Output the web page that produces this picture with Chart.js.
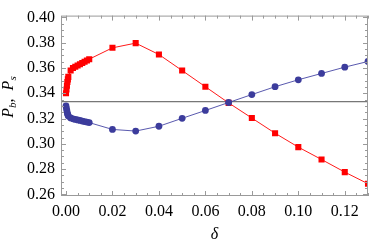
<!DOCTYPE html>
<html><head><meta charset="utf-8">
<script src="https://cdn.jsdelivr.net/npm/chart.js@4/dist/chart.umd.min.js"></script>
<style>html,body{margin:0;padding:0;background:#fff}canvas{display:block}</style>
</head><body>
<canvas id="c" width="374" height="244"></canvas>
<script>
// ---- data ----
const deltaValues = [0, 0.0002, 0.0004, 0.0006, 0.0008, 0.001,
  0.002, 0.003, 0.004, 0.005, 0.006, 0.007, 0.008, 0.009, 0.01,
  0.02, 0.03, 0.04, 0.05, 0.06, 0.07, 0.08, 0.09, 0.10, 0.11, 0.12, 0.13];
const squareSeries = [0.340, 0.343, 0.346, 0.349, 0.351, 0.353,
  0.358, 0.360, 0.361, 0.362, 0.363, 0.364, 0.365, 0.366, 0.367,
  0.376, 0.3797, 0.3707, 0.358, 0.3452, 0.3324, 0.3204, 0.3084, 0.2974, 0.2876, 0.2776, 0.2684];
const circleSeries = [0.330, 0.328, 0.326, 0.324, 0.323, 0.322,
  0.3205, 0.3198, 0.3193, 0.3189, 0.3185, 0.3180, 0.3176, 0.3172, 0.3168,
  0.3114, 0.3101, 0.3139, 0.3202, 0.3264, 0.3327, 0.3390, 0.3452, 0.3507, 0.3557, 0.3607, 0.3652];
const referenceLevel = 1 / 3;
const xTickLabels = [0, 0.02, 0.04, 0.06, 0.08, 0.10, 0.12];
const yTickLabels = [0.26, 0.28, 0.30, 0.32, 0.34, 0.36, 0.38, 0.40];
const xRange = [-0.00215, 0.13];
const yRange = [0.2587, 0.4015];

const serif = '"Liberation Serif", "DejaVu Serif", serif';
const frameColor = '#9a9a9a';

function minorValues(majors, lo, hi) {
  const step = (majors[1] - majors[0]) / 4;
  const out = [];
  const start = majors[0] - 4 * step;
  for (let i = 0; ; i++) {
    const v = +(start + i * step).toFixed(6);
    if (v > hi) break;
    if (v >= lo) out.push({ v, major: i % 4 === 0 });
  }
  return out;
}

const framePlugin = {
  id: 'frame',
  afterDatasetsDraw(chart) {
    const { ctx, chartArea: { left, right, top, bottom }, scales: { x, y } } = chart;
    ctx.save();
    ctx.strokeStyle = frameColor;
    ctx.lineWidth = 1;
    ctx.strokeRect(left + 0.5, top + 0.5, right - left - 1, bottom - top - 1);
    ctx.beginPath();
    for (const t of minorValues(xTickLabels, xRange[0], xRange[1])) {
      const px = Math.round(x.getPixelForValue(t.v)) + 0.5;
      const len = t.major ? 5 : 3;
      ctx.moveTo(px, bottom); ctx.lineTo(px, bottom - len);
      ctx.moveTo(px, top); ctx.lineTo(px, top + len);
    }
    for (const t of minorValues(yTickLabels, yRange[0], yRange[1])) {
      const py = Math.round(y.getPixelForValue(t.v)) + 0.5;
      const len = t.major ? 5 : 3;
      ctx.moveTo(left, py); ctx.lineTo(left + len, py);
      ctx.moveTo(right, py); ctx.lineTo(right - len, py);
    }
    ctx.stroke();
    // y-axis title with subscripts
    ctx.fillStyle = '#000';
    ctx.translate(13, 97);
    ctx.rotate(-Math.PI / 2);
    const parts = [
      { t: 'P', f: 'italic 16px ' + serif, dy: 0 },
      { t: 'b', f: 'italic 11px ' + serif, dy: 3 },
      { t: ',  ', f: '16px ' + serif, dy: 0 },
      { t: 'P', f: 'italic 16px ' + serif, dy: 0 },
      { t: 's', f: 'italic 11px ' + serif, dy: 3 }
    ];
    let w = 0;
    for (const p of parts) { ctx.font = p.f; w += ctx.measureText(p.t).width; }
    let cx = -w / 2;
    ctx.textBaseline = 'alphabetic';
    for (const p of parts) {
      ctx.font = p.f;
      ctx.fillText(p.t, cx, p.dy);
      cx += ctx.measureText(p.t).width;
    }
    ctx.restore();
  }
};

new Chart(document.getElementById('c'), {
  type: 'scatter',
  data: {
    datasets: [
      {
        label: 'circles',
        data: deltaValues.map((d, i) => ({ x: d, y: circleSeries[i] })),
        showLine: true,
        borderColor: 'rgba(60,60,160,0.85)',
        borderWidth: 1,
        backgroundColor: '#3c3c9c',
        pointBackgroundColor: '#3c3c9c',
        pointBorderWidth: 0,
        pointRadius: 3.4,
        pointStyle: 'circle',
        order: 1
      },
      {
        label: 'squares',
        data: deltaValues.map((d, i) => ({ x: d, y: squareSeries[i] })),
        showLine: true,
        borderColor: '#ff1a1a',
        borderWidth: 1,
        backgroundColor: '#ff0000',
        pointBackgroundColor: '#ff0000',
        pointBorderWidth: 0,
        pointRadius: 4.3,
        pointStyle: 'rect',
        order: 2
      },
      {
        label: 'reference',
        data: [{ x: xRange[0], y: referenceLevel }, { x: xRange[1], y: referenceLevel }],
        showLine: true,
        borderColor: '#555555',
        borderWidth: 1,
        pointRadius: 0,
        order: 3
      }
    ]
  },
  options: {
    responsive: false,
    animation: false,
    devicePixelRatio: 1,
    layout: { padding: { left: 0, top: 5, right: 6, bottom: 0 } },
    plugins: { legend: { display: false }, tooltip: { enabled: false } },
    scales: {
      x: {
        type: 'linear',
        min: xRange[0], max: xRange[1],
        afterFit(s) { s.height = 48; },
        afterBuildTicks(s) { s.ticks = xTickLabels.map(v => ({ value: v })); },
        grid: { display: false, drawTicks: false },
        border: { display: false },
        ticks: {
          padding: 6, color: '#000', maxRotation: 0, autoSkip: false,
          font: { family: serif, size: 16 },
          callback: v => Number(v).toFixed(2)
        },
        title: {
          display: true, text: 'δ', color: '#000',
          font: { family: serif, size: 16, style: 'italic' },
          padding: { top: 0, bottom: 0 }
        }
      },
      y: {
        type: 'linear',
        min: yRange[0], max: yRange[1],
        afterFit(s) { s.width = 61; },
        afterBuildTicks(s) { s.ticks = yTickLabels.map(v => ({ value: v })); },
        grid: { display: false, drawTicks: false },
        border: { display: false },
        ticks: {
          padding: 6, color: '#000', autoSkip: false,
          font: { family: serif, size: 16 },
          callback: v => Number(v).toFixed(2)
        }
      }
    }
  },
  plugins: [framePlugin]
});
</script>
</body></html>
